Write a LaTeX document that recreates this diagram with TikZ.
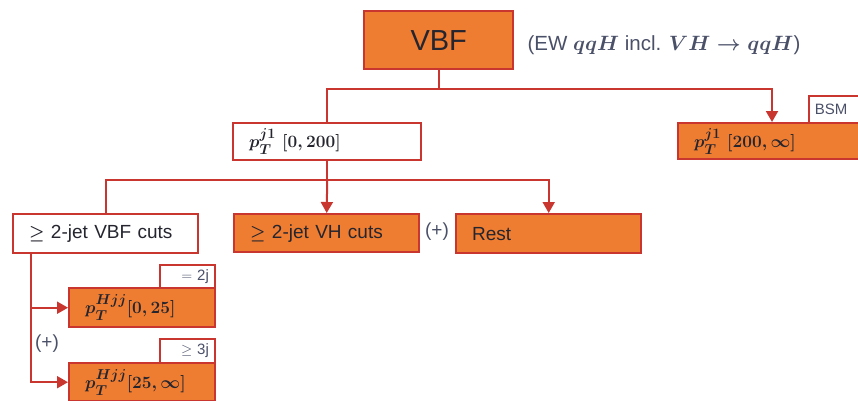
\documentclass[tikz,border=0pt]{standalone}
\usepackage{fontspec}
\setmainfont{Liberation Sans}
\usepackage{amsmath,amssymb}
\usetikzlibrary{arrows.meta,calc}
\definecolor{boxorange}{HTML}{EE7D31}
\definecolor{edgered}{HTML}{C8362F}
\definecolor{ink}{HTML}{25252F}
\definecolor{softink}{HTML}{4A5068}

\begin{document}
\begin{tikzpicture}[x=1pt,y=-1pt,
  box/.style={draw=edgered, line width=2.4pt, anchor=north west, inner xsep=16pt,
    inner ysep=0pt, align=left, text=ink,
    font=\fontsize{19}{23}\selectfont\boldmath},
  hot/.style={box, fill=boxorange},
  cold/.style={box, fill=white},
  tag/.style={draw=edgered, line width=1.8pt, fill=white, anchor=north west,
    inner xsep=6pt, inner ysep=0pt, text=softink,
    font=\fontsize{15}{18}\selectfont},
  conn/.style={draw=edgered, line width=2pt},
  tip/.style={-{Triangle[length=11pt,width=12pt]}},
  plus/.style={text=softink, font=\fontsize{19}{22}\selectfont}
]
\useasboundingbox (0,0) rectangle (858,400);

% top category
\node[hot, minimum width=149pt, minimum height=58pt, text width=117pt,
  align=center, font=\fontsize{29}{34}\selectfont] (vbf) at (363,10) {VBF};
\node[anchor=west, text=softink, font=\fontsize{20.5}{24}\selectfont\boldmath]
  (note) at (524,45) {(EW $qqH$ incl. $VH\rightarrow qqH$)};

% leading-jet split
\node[cold, minimum width=188pt, minimum height=37pt, text width=156pt]
  (pt1) at (232,122) {$p_T^{j1}\ [0,200]$};
\node[tag, minimum width=60pt, minimum height=27pt, text width=48pt, align=left]
  (bsm) at (808,95) {BSM};
\node[hot, minimum width=200pt, minimum height=36pt, text width=168pt]
  (pt2) at (677,122) {$p_T^{j1}\ [200,\infty]$};

% jet-topology split
\node[cold, minimum width=185pt, minimum height=39pt, text width=153pt]
  (vbfc) at (12,213) {$\geq$ 2-jet VBF cuts};
\node[hot, minimum width=185pt, minimum height=38pt, text width=153pt]
  (vh) at (233,213) {$\geq$ 2-jet VH cuts};
\node[plus] (plus1) at (437,232) {(+)};
\node[hot, minimum width=185pt, minimum height=39pt, text width=153pt]
  (rest) at (455,213) {Rest};

% Higgs+2j transverse momentum split
\node[tag, minimum width=55pt, minimum height=23pt, text width=43pt, align=right]
  (tag1) at (159,264) {$=$ 2j};
\node[hot, minimum width=146pt, minimum height=39pt, text width=114pt]
  (hjj1) at (68,287) {$p_T^{Hjj}[0,25]$};
\node[plus] (plus2) at (47,344) {(+)};
\node[tag, minimum width=55pt, minimum height=24pt, text width=43pt, align=right]
  (tag2) at (159,338) {$\geq$ 3j};
\node[hot, minimum width=146pt, minimum height=38pt, text width=114pt]
  (hjj2) at (68,362) {$p_T^{Hjj}[25,\infty]$};

% connectors
\draw[conn] (vbf.south) -- ++(0,19) coordinate (top);
\draw[conn] (top) -| (pt1.north);
\draw[conn,tip] (top) -| ($(pt2.north west)+(95,0)$);

\draw[conn] (pt1.south) -- ++(0,19) coordinate (mid);
\draw[conn] (mid) -| (vbfc.north);
\draw[conn,tip] (mid) -- (vh.north);
\draw[conn,tip] (mid) -| (rest.north);

\coordinate (stem) at ($(vbfc.south west)+(19,0)$);
\draw[conn,tip] (stem) |- (hjj1.west);
\draw[conn,tip] (stem) |- (hjj2.west);
\end{tikzpicture}
\end{document}
